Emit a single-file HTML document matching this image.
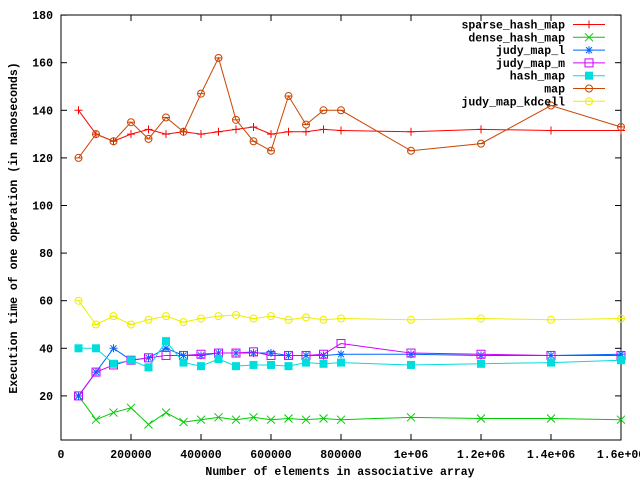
<!DOCTYPE html>
<html><head><meta charset="utf-8"><style>
body{margin:0;background:#fff}
svg text{font-family:"Liberation Mono",monospace;font-size:11.5px;font-weight:bold;fill:#000}
</style></head><body>
<svg id="s" width="640" height="480" xmlns="http://www.w3.org/2000/svg"></svg>
<script>
const s=document.getElementById('s');
const X=v=>61+v/1.6e6*560, Y=v=>443.5-2.38*v;
let h='';
h+='<rect x="61" y="15" width="560" height="425" fill="none" stroke="#000"/>';
for(let v=20;v<=180;v+=20){const y=Y(v);h+=`<line x1="61" y1="${y}" x2="67" y2="${y}" stroke="#000"/><line x1="615" y1="${y}" x2="621" y2="${y}" stroke="#000"/><text x="53" y="${y+4}" text-anchor="end">${v}</text>`;}
const xl=['0','200000','400000','600000','800000','1e+06','1.2e+06','1.4e+06','1.6e+06'];
for(let i=0;i<=8;i++){const x=X(i*200000);h+=`<line x1="${x}" y1="440" x2="${x}" y2="434" stroke="#000"/><line x1="${x}" y1="15" x2="${x}" y2="21" stroke="#000"/><text x="${x}" y="458" text-anchor="middle">${xl[i]}</text>`;}
h+='<text x="340" y="475" text-anchor="middle">Number of elements in associative array</text>';
h+='<text transform="translate(17,228) rotate(-90)" text-anchor="middle">Execution time of one operation (in nanoseconds)</text>';
const xs=[];for(let i=1;i<=16;i++)xs.push(i*50000);xs.push(1e6,1.2e6,1.4e6,1.6e6);
const S=[
['sparse_hash_map','#f00','plus',[140,130,127,130,132,130,131,130,131,132,133,130,131,131,132,131.5,131,132,131.5,131.5]],
['dense_hash_map','#0c0','x',[20,10,13,15,8,13,9,10,11,10,11,10,10.5,10,10.5,10,11,10.5,10.5,10]],
['judy_map_l','#06f','star',[20,30,40,35,36,40,37,37,38,38,38,38,37,37,37,37.5,37.5,37,37,37.5]],
['judy_map_m','#c0f','box',[20,30,33,35,36,37,37,37.5,38,38,38.5,37,37,37,37.5,42,38,37.5,37,37]],
['hash_map','#0dd','fbox',[40,40,33.5,35,32,43,34,32.5,35.5,32.5,33,33,32.5,34,33.5,34,33,33.5,34,35]],
['map','#c40','circ',[120,130,127,135,128,137,131,147,162,136,127,123,146,134,140,140,123,126,142,133]],
['judy_map_kdcell','#ee0','circ',[60,50,53.5,50,52,53.5,51,52.5,53.5,54,52.5,53.5,52,53,52,52.5,52,52.5,52,52.5]]];
function mk(t,x,y,c){
 if(t=='plus')return `<path d="M${x-4} ${y}h8M${x} ${y-4}v8" stroke="${c}"/>`;
 if(t=='x')return `<path d="M${x-4} ${y-4}l8 8M${x-4} ${y+4}l8 -8" stroke="${c}"/>`;
 if(t=='star')return `<path d="M${x-4} ${y}h8M${x} ${y-4}v8M${x-3} ${y-3}l6 6M${x-3} ${y+3}l6 -6" stroke="${c}"/>`;
 if(t=='box')return `<rect x="${x-4}" y="${y-4}" width="8" height="8" fill="none" stroke="${c}"/>`;
 if(t=='fbox')return `<rect x="${x-4}" y="${y-4}" width="8" height="8" fill="${c}"/>`;
 return `<circle cx="${x}" cy="${y}" r="3.5" fill="none" stroke="${c}"/><path d="M${x-3} ${y}h6" stroke="${c}"/>`;
}
S.forEach((sr,k)=>{const [n,c,t,d]=sr;
 h+=`<polyline fill="none" stroke="${c}" points="${d.map((v,i)=>X(xs[i])+','+Y(v)).join(' ')}"/>`;
 d.forEach((v,i)=>h+=mk(t,X(xs[i]),Y(v),c));
 const ly=24.5+k*12.8;
 h+=`<text x="565" y="${ly+4}" text-anchor="end">${n}</text><line x1="573" y1="${ly}" x2="605" y2="${ly}" stroke="${c}"/>`+mk(t,589,ly,c);
});
s.innerHTML=h;
</script>
</body></html>
